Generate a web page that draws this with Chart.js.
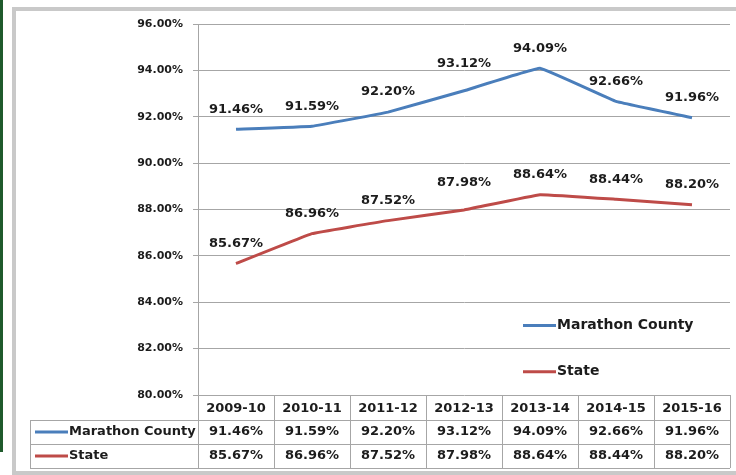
<!DOCTYPE html>
<html>
<head>
<meta charset="utf-8">
<script src="https://cdn.jsdelivr.net/npm/chart.js@4.4.1/dist/chart.umd.min.js"></script>
<style>
	html, body { margin: 0; padding: 0; background: #fff; overflow: hidden; }
	#wrap { position: relative; width: 736px; height: 475px; overflow: hidden; }
	#green { position: absolute; left: 0; top: 0; width: 3px; height: 452px; background: #1f5a2c; }
	#frame { position: absolute; left: 12px; top: 7px; width: 780px; height: 460px; border: 4px solid #c9c9c9; }
	#statChart { position: absolute; left: 0; top: 0; }
</style>
</head>
<body>
<div id="wrap">
	<div id="green"></div>
	<div id="frame"></div>
	<canvas id="statChart" width="736" height="475"></canvas>
</div>
<script>
const years = ['2009-10', '2010-11', '2011-12', '2012-13', '2013-14', '2014-15', '2015-16'];
const marathon = [91.46, 91.59, 92.20, 93.12, 94.09, 92.66, 91.96];
const state = [85.67, 86.96, 87.52, 87.98, 88.64, 88.44, 88.20];
const yTicks = [80, 82, 84, 86, 88, 90, 92, 94, 96];

const FONT = '"DejaVu Sans", Verdana, sans-serif';
const BLUE = '#4a7ebb';
const RED = '#be4b48';
const LINE = '#a6a6a6';
const TEXT = '#1c1c1c';

// data labels above points
const labelPlugin = {
	id: 'labels',
	afterDatasetsDraw(chart) {
		const ctx = chart.ctx;
		ctx.save();
		ctx.font = 'bold 13px ' + FONT;
		ctx.fillStyle = TEXT;
		ctx.textAlign = 'center';
		ctx.textBaseline = 'middle';
		chart.data.datasets.forEach((ds, di) => {
			chart.getDatasetMeta(di).data.forEach((pt, i) => {
				let lift = i == 3 ? 27 : 20;
				ctx.fillText(ds.data[i].toFixed(2) + '%', pt.x, pt.y - lift);
			});
		});
		ctx.restore();
	}
};

// legend inside plot + data table under it
const tablePlugin = {
	id: 'table',
	afterDraw(chart) {
		const ctx = chart.ctx;
		const area = chart.chartArea;
		const xs = chart.scales.x;
		const n = years.length;
		const colW = (area.right - area.left) / n;
		const top = area.bottom;
		const rowH = [25, 24, 24];
		const r1 = top + rowH[0], r2 = r1 + rowH[1], r3 = r2 + rowH[2];
		const tableLeft = 30;
		ctx.save();
		ctx.strokeStyle = LINE;
		ctx.lineWidth = 1;
		ctx.beginPath();
		for (let i = 0; i <= n; i++) {
			let x = Math.round(area.left + i * colW) + 0.5;
			ctx.moveTo(x, top);
			ctx.lineTo(x, r3);
		}
		[r1, r2, r3].forEach(y => {
			ctx.moveTo(tableLeft, Math.round(y) + 0.5);
			ctx.lineTo(area.right, Math.round(y) + 0.5);
		});
		ctx.moveTo(tableLeft + 0.5, r1);
		ctx.lineTo(tableLeft + 0.5, r3);
		ctx.stroke();

		ctx.font = 'bold 13px ' + FONT;
		ctx.fillStyle = TEXT;
		ctx.textAlign = 'center';
		ctx.textBaseline = 'middle';
		years.forEach((y, i) => {
			let cx = xs.getPixelForValue(i);
			ctx.fillText(y, cx, (top + r1) / 2 + 1);
			ctx.fillText(marathon[i].toFixed(2) + '%', cx, (r1 + r2) / 2);
			ctx.fillText(state[i].toFixed(2) + '%', cx, (r2 + r3) / 2);
		});
		ctx.textAlign = 'left';
		[[BLUE, 'Marathon County', (r1 + r2) / 2], [RED, 'State', (r2 + r3) / 2]].forEach(r => {
			ctx.strokeStyle = r[0];
			ctx.lineWidth = 3;
			ctx.beginPath();
			ctx.moveTo(35, r[2]);
			ctx.lineTo(68, r[2]);
			ctx.stroke();
			ctx.fillText(r[1], 69, r[2]);
		});

		// legend
		ctx.font = 'bold 14px ' + FONT;
		const lx = area.right - 207;
		[[BLUE, 'Marathon County', chart.scales.y.getPixelForValue(83)], [RED, 'State', chart.scales.y.getPixelForValue(81)]].forEach(r => {
			ctx.strokeStyle = r[0];
			ctx.lineWidth = 3;
			ctx.beginPath();
			ctx.moveTo(lx, r[2]);
			ctx.lineTo(lx + 33, r[2]);
			ctx.stroke();
			ctx.fillText(r[1], lx + 34, r[2]);
		});
		ctx.restore();
	}
};

const ctx = document.getElementById('statChart').getContext('2d');
const myChart = new Chart(ctx, {
	type: 'line',
	data: {
		labels: years,
		datasets: [
			{
				label: 'Marathon County',
				data: marathon,
				borderColor: BLUE,
				borderWidth: 3,
				tension: 0.06,
				borderJoinStyle: 'round',
				pointRadius: 0,
			}, {
				label: 'State',
				data: state,
				borderColor: RED,
				borderWidth: 3,
				tension: 0.06,
				borderJoinStyle: 'round',
				pointRadius: 0,
			}
		]
	},
	options: {
		responsive: false,
		animation: false,
		layout: { padding: { left: 0, right: 6, top: 24, bottom: 80 } },
		plugins: {
			legend: { display: false },
			tooltip: { enabled: false }
		},
		scales: {
			x: {
				offset: true,
				ticks: { display: false },
				grid: { display: false },
				border: { display: false },
				afterFit(s) { s.height = 0; }
			},
			y: {
				min: yTicks[0],
				max: yTicks[yTicks.length - 1],
				afterBuildTicks(s) { s.ticks = yTicks.map(v => ({ value: v })); },
				ticks: {
					padding: 10,
					color: TEXT,
					font: { family: FONT, size: 11, weight: 'bold' },
					callback: v => v.toFixed(2) + '%'
				},
				grid: { color: LINE, tickLength: 5, lineWidth: 1 },
				border: { color: LINE },
				afterFit(s) { s.width = 198; }
			}
		}
	},
	plugins: [labelPlugin, tablePlugin]
});
</script>
</body>
</html>
